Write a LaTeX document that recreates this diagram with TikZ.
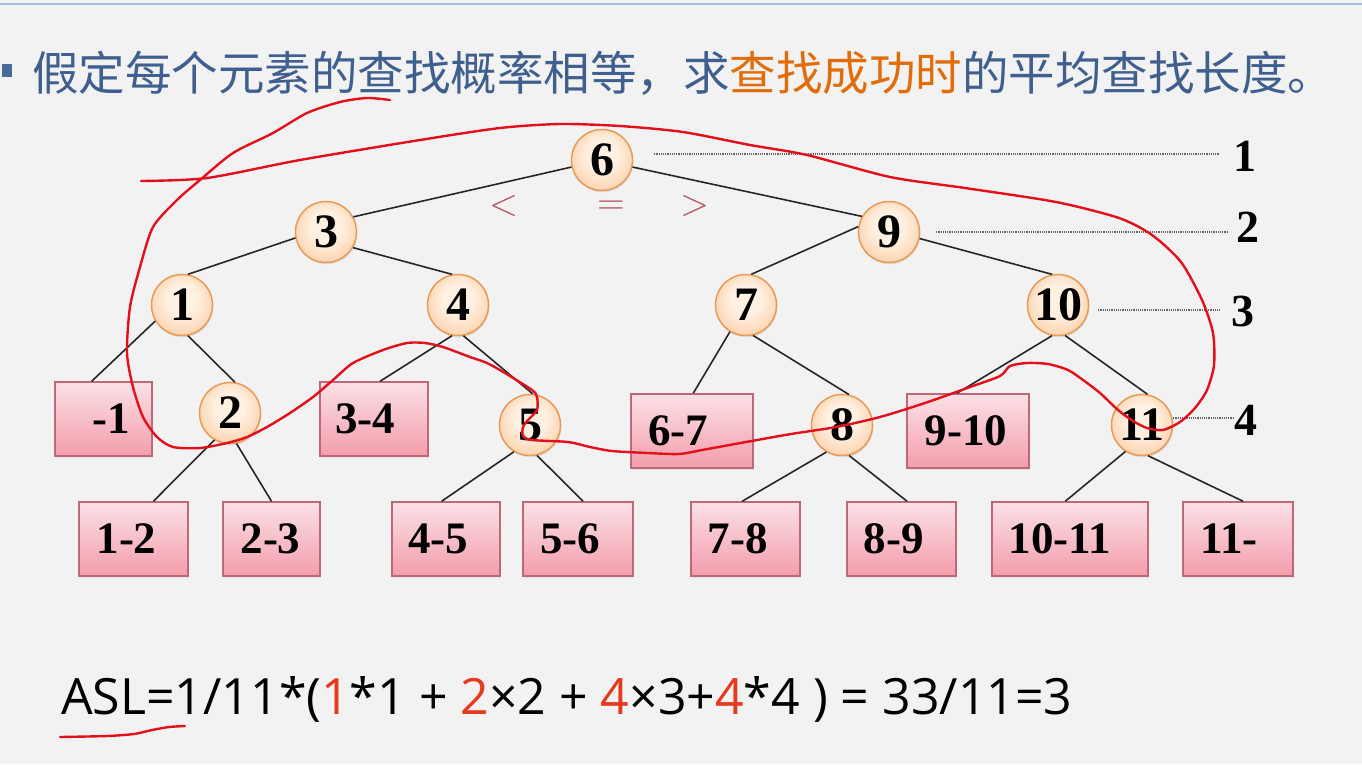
\documentclass[tikz,border=0pt]{standalone}
\usepackage{fontspec}
\setmainfont{Liberation Serif}
\newfontfamily\cjk{Noto Sans CJK SC}
\newfontfamily\aslfont{Open Sans}
\usetikzlibrary{calc,shadows}
\definecolor{bg}{HTML}{F2F2F2}
\definecolor{titleblue}{HTML}{3F5F8F}
\definecolor{titleorange}{HTML}{E36C0A}
\definecolor{bulletblue}{HTML}{4A6A9A}
\definecolor{toplinec}{HTML}{A5BBD2}
\definecolor{ballin}{HTML}{FFF1E2}
\definecolor{ballout}{HTML}{F7AC6E}
\definecolor{balledge}{HTML}{E99A55}
\definecolor{boxtop}{HTML}{FCE1E6}
\definecolor{boxbot}{HTML}{F29DAB}
\definecolor{boxedge}{HTML}{BE6878}
\definecolor{cmpred}{HTML}{B5505F}
\definecolor{inkred}{HTML}{E3101C}
\definecolor{numred}{HTML}{E8381E}
\pgfdeclareradialshading{ballshade}{\pgfpoint{0bp}{6bp}}{color(0bp)=(ballin); color(12bp)=(ballin); color(50bp)=(ballout)}
\tikzset{
  ball/.style={circle, minimum size=61pt, inner sep=0pt, shading=ballshade,
    draw=balledge, line width=1.5pt,
    drop shadow={opacity=0.18, shadow xshift=0.8pt, shadow yshift=-1.8pt},
    font=\fontsize{48}{50}\selectfont\bfseries},
  leaf/.style={rectangle, inner sep=0pt, top color=boxtop, bottom color=boxbot,
    draw=boxedge, line width=1.5pt,
    drop shadow={opacity=0.15, shadow xshift=1pt, shadow yshift=-1.5pt}},
  boxlabel/.style={font=\fontsize{45}{47}\selectfont\bfseries, inner sep=0pt},
  edge/.style={draw=black!85, line width=1.6pt},
  levline/.style={draw=black!60, line width=1.3pt, dash pattern=on 1.2pt off 1pt},
  levnum/.style={font=\fontsize{46}{48}\selectfont\bfseries, inner sep=0pt},
  cmp/.style={font=\sffamily\fontsize{38}{40}\selectfont, text=cmpred, inner sep=0pt,
    text height=18pt, text depth=0pt, anchor=base},
  ink/.style={draw=inkred, line width=2.4pt, line cap=round, line join=round}
}
\newcommand\leafbox[7]{%
  \node[leaf, minimum width={#4-#2}, minimum height={#5-#3},
    label={[boxlabel,xshift=#7pt]center:#6}] (#1) at ({(#2+#4)/2},{(#3+#5)/2}) {};}
\begin{document}
\begin{tikzpicture}[x=1pt,y=-1pt]
\useasboundingbox (0,0) rectangle (1362,764);
\fill[bg] (0,0) rectangle (1362,764);
\draw[toplinec, line width=2.5pt] (0,4) -- (1362,4);

% title
\node[fill=bulletblue, minimum width=10pt, minimum height=13pt, inner sep=0pt] (bullet) at (7,70) {};
\node[anchor=base west, inner sep=0pt, font=\cjk\fontsize{46.5}{50}\selectfont, text=titleblue] (title) at (32,90)
  {假定每个元素的查找概率相等，求{\color{titleorange}查找成功时}的平均查找长度。};

% leaf boxes
\leafbox{bm1}{55}{382}{152}{456}{-1}{8}
\leafbox{b34}{320}{382}{428}{456}{3-4}{-9}
\leafbox{b67}{631}{394}{753}{468}{6-7}{-14}
\leafbox{b910}{907}{394}{1029}{468}{9-10}{-2}
\leafbox{b12}{79}{502}{188}{576}{1-2}{-7}
\leafbox{b23}{223}{502}{320}{576}{2-3}{-1}
\leafbox{b45}{392}{502}{500}{576}{4-5}{-8}
\leafbox{b56}{523}{502}{633}{576}{5-6}{-8}
\leafbox{b78}{691}{502}{800}{576}{7-8}{-8}
\leafbox{b89}{847}{502}{956}{576}{8-9}{-8}
\leafbox{b1011}{992}{502}{1148}{576}{10-11}{-10}
\leafbox{b11}{1183}{502}{1293}{576}{11-}{-9}

% tree nodes
\node[ball] (n6) at (602,160) {6};
\node[ball] (n3) at (326,232) {3};
\node[ball] (n9) at (889,232) {9};
\node[ball] (n1) at (182,305) {1};
\node[ball] (n4) at (458,305) {4};
\node[ball] (n7) at (746,305) {7};
\node[ball] (n10) at (1058,305) {10};
\node[ball] (n2) at (230,413) {2};
\node[ball] (n5) at (530,425) {5};
\node[ball] (n8) at (842,425) {8};
\node[ball] (n11) at (1142,425) {11};

% edges
\draw[edge] (n6.193) -- (n3.29);
\draw[edge] (n6.347) -- (n9.150);
\draw[edge] (n3.191) -- (n1.79);
\draw[edge] (n3.330) -- (n4.101);
\draw[edge] (n9.170) -- (n7.80);
\draw[edge] (n9.348) -- (n10.101);
\draw[edge] (n1.211) -- ($(bm1.north west)!0.38!(bm1.north east)$);
\draw[edge] (n1.281) -- (n2.81);
\draw[edge] (n4.259) -- ($(b34.north west)!0.556!(b34.north east)$);
\draw[edge] (n4.280) -- (n5.85);
\draw[edge] (n7.239) -- ($(b67.north west)!0.51!(b67.north east)$);
\draw[edge] (n7.283) -- (n8.77);
\draw[edge] (n10.259) -- ($(b910.north west)!0.41!(b910.north east)$);
\draw[edge] (n10.283) -- (n11.80);
\draw[edge] (n2.240) -- ($(b12.north west)!0.68!(b12.north east)$);
\draw[edge] (n2.282) -- ($(b23.north west)!0.5!(b23.north east)$);
\draw[edge] (n5.239) -- ($(b45.north west)!0.46!(b45.north east)$);
\draw[edge] (n5.283) -- ($(b56.north west)!0.545!(b56.north east)$);
\draw[edge] (n8.240) -- ($(b78.north west)!0.47!(b78.north east)$);
\draw[edge] (n8.283) -- ($(b89.north west)!0.55!(b89.north east)$);
\draw[edge] (n11.238) -- ($(b1011.north west)!0.47!(b1011.north east)$);
\draw[edge] (n11.281) -- ($(b11.north west)!0.545!(b11.north east)$);

% comparison marks
\node[cmp] (lt) at (504,215) {<};
\node[cmp] (eq) at (611,214) {=};
\node[cmp] (gt) at (695,215) {>};

% levels
\node[levnum] (lv1) at (1245,156) {1};
\node[levnum] (lv2) at (1248,227) {2};
\node[levnum] (lv3) at (1243,311) {3};
\node[levnum] (lv4) at (1246,420) {4};
\coordinate (l1a) at ($(n6.east)+(21,-6)$);
\coordinate (l2a) at ($(n9.east)+(16,0)$);
\coordinate (l3a) at ($(n10.east)+(9,5)$);
\coordinate (l4a) at ($(n11.east)+(0,-7)$);
\draw[levline, shorten >=14pt] (l1a) -- (l1a -| lv1.west);
\draw[levline, shorten >=9pt] (l2a) -- (l2a -| lv2.west);
\draw[levline, shorten >=12pt] (l3a) -- (l3a -| lv3.west);
\draw[levline] (l4a) -- (l4a -| lv4.west);

% ASL formula
\node[anchor=base west, inner sep=0pt, font=\aslfont\fontsize{50}{53}\selectfont] (asl) at (61,714)
  {ASL=1/11*({\color{numred}1}*1 + {\color{numred}2}×2 + {\color{numred}4}×3+{\color{numred}4}*4 ) = 33/11=3};

% hand-drawn red annotations
\draw[ink] plot[smooth, tension=0.45] coordinates {(60,737) (107,736) (134,734) (152,730) (169,727) (185,726)};
\draw[ink] plot[smooth, tension=0.45] coordinates {
 (141,181) (207,178) (300,160) (420,140) (500,128) (560,124) (620,126) (683,132)
 (750,145) (807,155) (890,177) (965,188) (1056,202) (1119,218) (1152,235) (1181,262)
 (1202,300) (1213,333) (1214,365) (1207,390) (1195,408) (1180,422) (1163,430) (1147,428)
 (1133,421) (1118,410) (1100,393) (1083,380) (1068,370) (1048,364) (1027,363) (1010,366)
 (1000,376) (970,387) (925,403) (880,417) (836,427) (791,434) (746,442) (702,450)
 (679,454) (648,453) (612,451) (590,447) (568,442) (532,440) (523,436) (523,427)
 (528,420) (537,410) (537,397) (532,390) (505,373) (487,363) (470,357) (443,347)
 (425,343) (407,343) (383,350) (353,363) (333,380) (313,397) (290,413) (267,427)
 (247,437) (227,443) (200,448) (173,447) (157,437) (143,417) (133,387) (127,353)
 (130,307) (140,267) (153,227) (177,200) (200,180) (233,153) (273,133) (307,113)
 (340,102) (367,98) (390,100)};
\end{tikzpicture}
\end{document}
